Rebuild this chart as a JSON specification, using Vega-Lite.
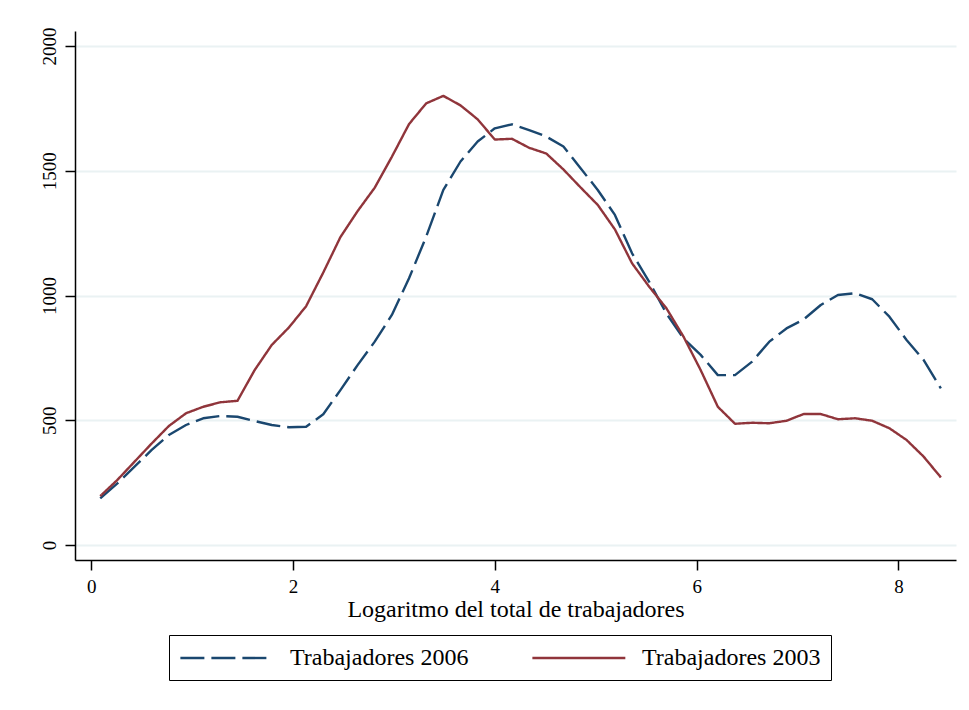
{
  "$schema": "https://vega.github.io/schema/vega-lite/v6.json",
  "width": 881,
  "height": 529,
  "autosize": {"type": "none"},
  "padding": {"left": 75, "top": 31, "right": 13, "bottom": 150},
  "background": "white",
  "config": {
    "view": {"stroke": null},
    "font": "Liberation Serif"
  },
  "data": {
    "values": [
      {"x": 0.09, "Trabajadores 2006": 187, "Trabajadores 2003": 196},
      {"x": 0.26, "Trabajadores 2006": 247, "Trabajadores 2003": 261},
      {"x": 0.43, "Trabajadores 2006": 314, "Trabajadores 2003": 334},
      {"x": 0.60, "Trabajadores 2006": 381, "Trabajadores 2003": 407},
      {"x": 0.77, "Trabajadores 2006": 441, "Trabajadores 2003": 477},
      {"x": 0.94, "Trabajadores 2006": 481, "Trabajadores 2003": 528},
      {"x": 1.11, "Trabajadores 2006": 508, "Trabajadores 2003": 554},
      {"x": 1.28, "Trabajadores 2006": 517, "Trabajadores 2003": 572},
      {"x": 1.45, "Trabajadores 2006": 514, "Trabajadores 2003": 578},
      {"x": 1.62, "Trabajadores 2006": 497, "Trabajadores 2003": 701},
      {"x": 1.79, "Trabajadores 2006": 481, "Trabajadores 2003": 802},
      {"x": 1.96, "Trabajadores 2006": 472, "Trabajadores 2003": 872},
      {"x": 2.13, "Trabajadores 2006": 474, "Trabajadores 2003": 957},
      {"x": 2.30, "Trabajadores 2006": 524, "Trabajadores 2003": 1092},
      {"x": 2.47, "Trabajadores 2006": 621, "Trabajadores 2003": 1234},
      {"x": 2.64, "Trabajadores 2006": 721, "Trabajadores 2003": 1338},
      {"x": 2.81, "Trabajadores 2006": 815, "Trabajadores 2003": 1432},
      {"x": 2.98, "Trabajadores 2006": 922, "Trabajadores 2003": 1556},
      {"x": 3.15, "Trabajadores 2006": 1069, "Trabajadores 2003": 1687},
      {"x": 3.32, "Trabajadores 2006": 1236, "Trabajadores 2003": 1770},
      {"x": 3.49, "Trabajadores 2006": 1423, "Trabajadores 2003": 1800},
      {"x": 3.66, "Trabajadores 2006": 1537, "Trabajadores 2003": 1762},
      {"x": 3.83, "Trabajadores 2006": 1617, "Trabajadores 2003": 1706},
      {"x": 4.00, "Trabajadores 2006": 1670, "Trabajadores 2003": 1625},
      {"x": 4.17, "Trabajadores 2006": 1686, "Trabajadores 2003": 1628},
      {"x": 4.34, "Trabajadores 2006": 1663, "Trabajadores 2003": 1592},
      {"x": 4.51, "Trabajadores 2006": 1637, "Trabajadores 2003": 1569},
      {"x": 4.68, "Trabajadores 2006": 1597, "Trabajadores 2003": 1505},
      {"x": 4.85, "Trabajadores 2006": 1510, "Trabajadores 2003": 1433},
      {"x": 5.02, "Trabajadores 2006": 1423, "Trabajadores 2003": 1363},
      {"x": 5.19, "Trabajadores 2006": 1323, "Trabajadores 2003": 1265},
      {"x": 5.36, "Trabajadores 2006": 1169, "Trabajadores 2003": 1129},
      {"x": 5.53, "Trabajadores 2006": 1055, "Trabajadores 2003": 1035},
      {"x": 5.70, "Trabajadores 2006": 928, "Trabajadores 2003": 949},
      {"x": 5.87, "Trabajadores 2006": 828, "Trabajadores 2003": 835},
      {"x": 6.04, "Trabajadores 2006": 762, "Trabajadores 2003": 701},
      {"x": 6.21, "Trabajadores 2006": 681, "Trabajadores 2003": 554},
      {"x": 6.38, "Trabajadores 2006": 681, "Trabajadores 2003": 486},
      {"x": 6.55, "Trabajadores 2006": 735, "Trabajadores 2003": 490},
      {"x": 6.72, "Trabajadores 2006": 815, "Trabajadores 2003": 488},
      {"x": 6.89, "Trabajadores 2006": 868, "Trabajadores 2003": 498},
      {"x": 7.06, "Trabajadores 2006": 904, "Trabajadores 2003": 525},
      {"x": 7.23, "Trabajadores 2006": 962, "Trabajadores 2003": 525},
      {"x": 7.40, "Trabajadores 2006": 1002, "Trabajadores 2003": 504},
      {"x": 7.57, "Trabajadores 2006": 1009, "Trabajadores 2003": 508},
      {"x": 7.74, "Trabajadores 2006": 985, "Trabajadores 2003": 498},
      {"x": 7.91, "Trabajadores 2006": 915, "Trabajadores 2003": 468},
      {"x": 8.08, "Trabajadores 2006": 822, "Trabajadores 2003": 421},
      {"x": 8.25, "Trabajadores 2006": 741, "Trabajadores 2003": 354},
      {"x": 8.42, "Trabajadores 2006": 628, "Trabajadores 2003": 271}
    ]
  },
  "transform": [
    {"fold": ["Trabajadores 2006", "Trabajadores 2003"], "as": ["serie", "y"]}
  ],
  "mark": {"type": "line", "strokeWidth": 2.4, "strokeCap": "butt", "strokeJoin": "round"},
  "encoding": {
    "x": {
      "field": "x",
      "type": "quantitative",
      "scale": {"domain": [-0.16, 8.57], "nice": false, "zero": false},
      "axis": {
        "title": "Logaritmo del total de trabajadores",
        "values": [0, 2, 4, 6, 8],
        "format": "d",
        "grid": false,
        "domainColor": "black",
        "domainWidth": 1.5,
        "tickColor": "black",
        "tickWidth": 1.5,
        "tickSize": 10,
        "labelFont": "Liberation Serif",
        "labelFontSize": 19,
        "labelColor": "black",
        "labelPadding": 7,
        "titleFont": "Liberation Serif",
        "titleFontSize": 24,
        "titleFontWeight": "normal",
        "titleColor": "black",
        "titlePadding": 1
      }
    },
    "y": {
      "field": "y",
      "type": "quantitative",
      "scale": {"domain": [-60, 2060], "nice": false, "zero": false},
      "axis": {
        "title": null,
        "values": [0, 500, 1000, 1500, 2000],
        "format": "d",
        "grid": true,
        "gridColor": "#eaf2f3",
        "gridWidth": 2,
        "domainColor": "black",
        "domainWidth": 1.5,
        "tickColor": "black",
        "tickWidth": 1.5,
        "tickSize": 10,
        "labelAngle": -90,
        "labelAlign": "center",
        "labelBaseline": "bottom",
        "labelFont": "Liberation Serif",
        "labelFontSize": 19,
        "labelColor": "black",
        "labelPadding": 6
      }
    },
    "color": {
      "field": "serie",
      "type": "nominal",
      "scale": {"domain": ["Trabajadores 2006", "Trabajadores 2003"], "range": ["#1a476f", "#90353b"]},
      "legend": {
        "title": null,
        "orient": "none",
        "legendX": 94,
        "legendY": 604,
        "direction": "horizontal",
        "strokeColor": "black",
        "fillColor": "white",
        "padding": 10,
        "symbolType": "M-1,0H7",
        "symbolSize": 540,
        "symbolStrokeWidth": 2.4,
        "labelOffset": 85,
        "columnPadding": 58,
        "labelFont": "Liberation Serif",
        "labelFontSize": 24,
        "labelColor": "black",
        "labelLimit": 400
      }
    },
    "strokeDash": {
      "field": "serie",
      "type": "nominal",
      "scale": {"domain": ["Trabajadores 2006", "Trabajadores 2003"], "range": [[24, 7], [1, 0]]},
      "legend": null
    }
  }
}
